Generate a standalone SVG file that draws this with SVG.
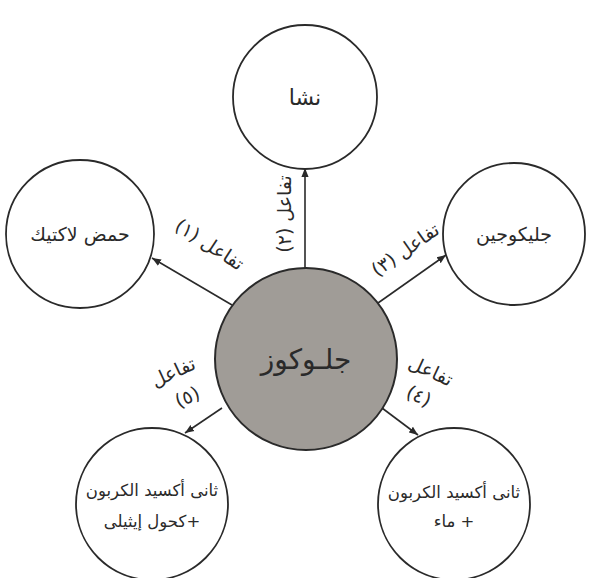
<svg xmlns="http://www.w3.org/2000/svg" width="590" height="578" viewBox="0 0 590 578">
<defs>
<marker id="ah" viewBox="0 0 10 10" refX="10" refY="5" markerWidth="9" markerHeight="9" markerUnits="userSpaceOnUse" orient="auto">
<path d="M0,1 L10,5 L0,9 Z" fill="#2a2a2a"/>
</marker>
<style>
.node{fill:#ffffff;stroke:#2a2a2a;stroke-width:1.8}
.center{fill:#a09c97;stroke:#2a2a2a;stroke-width:2}
.lbl{font-family:"DejaVu Sans","Noto Sans",sans-serif;font-size:19px;fill:#2a2a2a;text-anchor:middle;direction:rtl}
.sm{font-size:16.5px}
.rx{font-family:"DejaVu Sans","Noto Sans",sans-serif;font-size:19px;fill:#2a2a2a;text-anchor:middle;direction:rtl}
.conn{stroke:#2a2a2a;stroke-width:1.6;fill:none;marker-end:url(#ah)}
</style>
</defs>
<rect width="590" height="578" fill="#ffffff"/>
<g id="connectors">
<line class="conn" x1="232" y1="305" x2="152" y2="258"/>
<line class="conn" x1="305" y1="268" x2="305" y2="168"/>
<line class="conn" x1="378" y1="303" x2="446" y2="255"/>
<line class="conn" x1="382" y1="408" x2="418" y2="435"/>
<line class="conn" x1="222" y1="408" x2="185" y2="433"/>
<text class="rx" transform="translate(206,250) rotate(33)">تفاعل (١)</text>
<text class="rx" transform="translate(291,214) rotate(-90)">تفاعل (٢)</text>
<text class="rx" transform="translate(409,255) rotate(-35)">تفاعل (٣)</text>
<text class="rx" transform="translate(428,377) rotate(25)">تفاعل</text>
<text class="rx" transform="translate(416,402) rotate(25)">(٤)</text>
<text class="rx" transform="translate(176,378) rotate(-25)">تفاعل</text>
<text class="rx" transform="translate(190,403) rotate(-25)">(٥)</text>
</g>
<g id="node-starch">
<circle class="node" cx="305" cy="97" r="72"/>
<text class="lbl" x="305" y="105" style="font-size:22px">نشا</text>
</g>
<g id="node-lactic">
<circle class="node" cx="80" cy="234" r="74"/>
<text class="lbl" x="80" y="241">حمض لاكتيك</text>
</g>
<g id="node-glycogen">
<circle class="node" cx="514" cy="234" r="71"/>
<text class="lbl" x="514" y="241">جليكوجين</text>
</g>
<g id="node-glucose">
<circle class="center" cx="306" cy="359" r="91"/>
<text class="lbl" x="306" y="369" style="font-size:28px">جلـوكوز</text>
</g>
<g id="node-co2-ethanol">
<circle class="node" cx="152" cy="504" r="76"/>
<text class="lbl sm" x="152" y="496">ثانى أكسيد الكربون</text>
<text class="lbl sm" x="152" y="527">+كحول إيثيلى</text>
</g>
<g id="node-co2-water">
<circle class="node" cx="454" cy="504" r="76"/>
<text class="lbl sm" x="454" y="498">ثانى أكسيد الكربون</text>
<text class="lbl sm" x="454" y="527">+ ماء</text>
</g>
</svg>
